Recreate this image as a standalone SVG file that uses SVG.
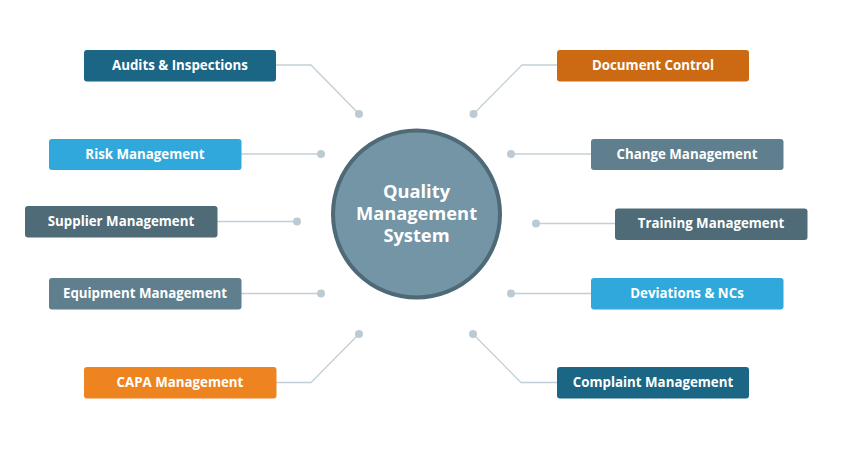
<svg xmlns="http://www.w3.org/2000/svg" width="841" height="457" viewBox="0 0 841 457">
<style>
.box{stroke:none}
.lbl{font-family:"Open Sans","Liberation Sans",sans-serif;font-weight:700;font-size:13.3px;fill:#ffffff;text-anchor:middle;dominant-baseline:central}
.ctr{font-family:"Open Sans","Liberation Sans",sans-serif;font-weight:700;font-size:18.3px;fill:#ffffff;text-anchor:middle}
.con{fill:none;stroke:#c3cfd6;stroke-width:1.3}
.dot{fill:#bccbd3}
</style>
<rect width="841" height="457" fill="#ffffff"/>
<g id="connectors">
<polyline class="con" points="276,65 311,65 359,114"/>
<circle class="dot" cx="359" cy="114" r="4"/>
<polyline class="con" points="241,154 321,154"/>
<circle class="dot" cx="321" cy="154" r="4"/>
<polyline class="con" points="217,221.5 297,221.5"/>
<circle class="dot" cx="297" cy="221.5" r="4"/>
<polyline class="con" points="241,293.5 321,293.5"/>
<circle class="dot" cx="321" cy="293.5" r="4"/>
<polyline class="con" points="276,382.5 311,382.5 359,334"/>
<circle class="dot" cx="359" cy="334" r="4"/>
<polyline class="con" points="557,65 522,65 473.5,114"/>
<circle class="dot" cx="473.5" cy="114" r="4"/>
<polyline class="con" points="591,154 511,154"/>
<circle class="dot" cx="511" cy="154" r="4"/>
<polyline class="con" points="615,223.5 536,223.5"/>
<circle class="dot" cx="536" cy="223.5" r="4"/>
<polyline class="con" points="591,293.5 511,293.5"/>
<circle class="dot" cx="511" cy="293.5" r="4"/>
<polyline class="con" points="557,382.5 521,382.5 473,334"/>
<circle class="dot" cx="473" cy="334" r="4"/>
</g>
<g id="center">
<circle cx="416.5" cy="214" r="83.5" fill="#7395a5" stroke="#4f6977" stroke-width="4"/>
<text class="ctr" x="416.5" y="197.5">Quality</text>
<text class="ctr" x="416.5" y="219.5">Management</text>
<text class="ctr" x="416.5" y="241.5">System</text>
</g>
<g id="audits">
<rect class="box" x="84" y="50" width="192" height="31.5" rx="3" fill="#1b6585"/>
<text class="lbl" x="180" y="64.5">Audits &amp; Inspections</text>
</g>
<g id="risk">
<rect class="box" x="49" y="139" width="192.5" height="31" rx="3" fill="#31a8dc"/>
<text class="lbl" x="145" y="153.5">Risk Management</text>
</g>
<g id="supplier">
<rect class="box" x="25" y="206" width="192.5" height="31.5" rx="3" fill="#4f6b78"/>
<text class="lbl" x="121" y="220.5">Supplier Management</text>
</g>
<g id="equipment">
<rect class="box" x="49" y="278" width="192.5" height="31.5" rx="3" fill="#5f7f8e"/>
<text class="lbl" x="145" y="292.5">Equipment Management</text>
</g>
<g id="capa">
<rect class="box" x="84" y="367" width="192.5" height="31.5" rx="3" fill="#ee841f"/>
<text class="lbl" x="180" y="381.5">CAPA Management</text>
</g>
<g id="document">
<rect class="box" x="557" y="50" width="192" height="31.5" rx="3" fill="#cb6a13"/>
<text class="lbl" x="653" y="64.5">Document Control</text>
</g>
<g id="change">
<rect class="box" x="591" y="139" width="192.5" height="31" rx="3" fill="#5f7f8e"/>
<text class="lbl" x="687" y="153.5">Change Management</text>
</g>
<g id="training">
<rect class="box" x="615" y="208.5" width="192.5" height="31.5" rx="3" fill="#4f6b78"/>
<text class="lbl" x="711" y="223">Training Management</text>
</g>
<g id="deviations">
<rect class="box" x="591" y="278" width="192.5" height="31.5" rx="3" fill="#31a8dc"/>
<text class="lbl" x="687" y="292.5">Deviations &amp; NCs</text>
</g>
<g id="complaint">
<rect class="box" x="557" y="367" width="192" height="31.5" rx="3" fill="#1b6585"/>
<text class="lbl" x="653" y="381.5">Complaint Management</text>
</g>
</svg>
